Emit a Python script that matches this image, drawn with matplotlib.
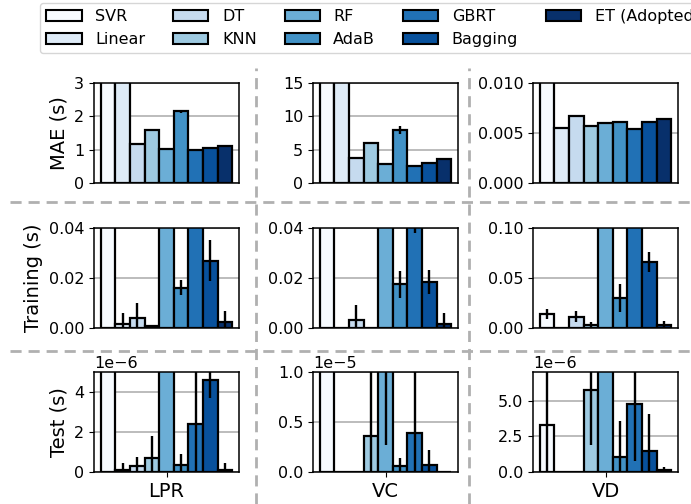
import numpy as np
import matplotlib
matplotlib.use("Agg")
import matplotlib.pyplot as plt
from matplotlib.lines import Line2D
from matplotlib.patches import Patch

models = ["SVR", "Linear", "DT", "KNN", "RF", "AdaB", "GBRT", "Bagging", "ET (Adopted)"]
colors = ["#f7fbff", "#deebf7", "#c6dbef", "#9ecae1", "#6baed6",
          "#4292c6", "#2171b5", "#08519c", "#08306b"]
datasets = ["LPR", "VC", "VD"]
row_labels = ["MAE (s)", "Training (s)", "Test (s)"]

# MAE (s)
mae_lpr = [5.0, 3.6, 1.17, 1.58, 1.03, 2.15, 0.99, 1.05, 1.12]
mae_lpr_err = [0, 0, 0, 0, 0, 0.05, 0, 0, 0]
mae_vc = [30.0, 20.0, 3.7, 5.95, 2.9, 8.0, 2.5, 3.05, 3.6]
mae_vc_err = [0, 0, 0, 0, 0, 0.6, 0, 0, 0]
mae_vd = [0.02, 0.00547, 0.00673, 0.00567, 0.00597, 0.0061, 0.00543, 0.00607, 0.0064]
mae_vd_err = [0, 0, 0, 0, 0, 0.0001, 0, 0.0001, 0.0001]

# Training time (s)
train_lpr = [0.10, 0.0016, 0.0042, 0.0008, 0.12, 0.0162, 0.15, 0.0269, 0.0023]
train_lpr_err = [0.01, 0.0044, 0.0058, 0.0004, 0.01, 0.003, 0.01, 0.0082, 0.0044]
train_vc = [0.30, 0.0, 0.0032, 0.0, 0.20, 0.0175, 0.06, 0.0185, 0.0018]
train_vc_err = [0.02, 0.0, 0.0062, 0.0, 0.02, 0.0055, 0.022, 0.0048, 0.0044]
train_vd = [0.0141, 0.0, 0.0114, 0.0027, 0.30, 0.030, 0.40, 0.0663, 0.0027]
train_vd_err = [0.0053, 0.0, 0.0054, 0.0037, 0.05, 0.0138, 0.05, 0.010, 0.004]

# Test time (s)
test_lpr = [20e-6, 0.12e-6, 0.28e-6, 0.70e-6, 8e-6, 0.37e-6, 2.42e-6, 4.6e-6, 0.12e-6]
test_lpr_err = [3e-6, 0.33e-6, 0.45e-6, 1.08e-6, 2e-6, 0.53e-6, 2.8e-6, 0.9e-6, 0.33e-6]
test_vc = [5e-5, 0.0, 0.0, 0.363e-5, 1.5e-5, 0.057e-5, 0.39e-5, 0.073e-5, 0.003e-5]
test_vc_err = [0.5e-5, 0.0, 0.0, 0.9e-5, 1.227e-5, 0.083e-5, 0.75e-5, 0.15e-5, 0.005e-5]
test_vd = [3.32e-6, 0.0, 0.0, 5.77e-6, 12e-6, 1.05e-6, 4.77e-6, 1.45e-6, 0.12e-6]
test_vd_err = [3.8e-6, 0.0, 0.0, 3.85e-6, 2e-6, 2.5e-6, 4.02e-6, 2.64e-6, 0.23e-6]

values = [[mae_lpr, mae_vc, mae_vd],
          [train_lpr, train_vc, train_vd],
          [test_lpr, test_vc, test_vd]]
errors = [[mae_lpr_err, mae_vc_err, mae_vd_err],
          [train_lpr_err, train_vc_err, train_vd_err],
          [test_lpr_err, test_vc_err, test_vd_err]]
ylims = [[3, 15, 0.010], [0.04, 0.04, 0.10], [5e-6, 1e-5, 7e-6]]
yticks = [[[0, 1, 2, 3], [0, 5, 10, 15], [0, 0.005, 0.010]],
          [[0, 0.02, 0.04], [0, 0.02, 0.04], [0, 0.05, 0.10]],
          [[0, 2e-6, 4e-6], [0, 0.5e-5, 1e-5], [0, 2.5e-6, 5e-6]]]

W, H = 691, 504
fig = plt.figure(figsize=(W / 100, H / 100), dpi=100)

col_left = [94, 313, 533]
ax_w = 145
row_top = [83, 228, 372]
ax_h = 100

bw = 0.1
xpos = (np.arange(len(models)) - (len(models) - 1) / 2) * bw

for r in range(3):
    for c in range(3):
        ax = fig.add_axes([col_left[c] / W, 1 - (row_top[r] + ax_h) / H, ax_w / W, ax_h / H])
        ax.set_axisbelow(True)
        ax.yaxis.grid(True, color="#b0b0b0", lw=1.2)
        ax.bar(xpos, values[r][c], bw, yerr=errors[r][c], color=colors,
               edgecolor="black", linewidth=1.6,
               error_kw=dict(ecolor="black", elinewidth=1.7, capsize=0))
        ax.set_ylim(0, ylims[r][c])
        ax.set_yticks(yticks[r][c])
        ax.tick_params(axis="y", labelsize=11.5)
        for s in ax.spines.values():
            s.set_linewidth(1.1)
        if r == 2:
            ax.set_xticks([0])
            ax.set_xticklabels([datasets[c]], fontsize=14)
            ax.ticklabel_format(axis="y", style="sci", scilimits=(0, 0))
            ax.yaxis.get_offset_text().set_fontsize(11.5)
        else:
            ax.set_xticks([])
        if c == 0:
            ax.set_ylabel(row_labels[r], fontsize=14)

# dashed separators
dash = dict(color="#b0b0b0", lw=2, ls=(0, (4, 2.5)), transform=fig.transFigure)
for yp in [202, 351]:
    fig.add_artist(Line2D([10 / W, 1], [1 - yp / H, 1 - yp / H], **dash))
for xp in [256, 469]:
    fig.add_artist(Line2D([xp / W, xp / W], [0, 1 - 68 / H], **dash))

handles = [Patch(facecolor=col, edgecolor="black", linewidth=1.5) for col in colors]
fig.legend(handles, models, ncol=5, loc="upper left",
           bbox_to_anchor=(40 / W, 1 - 2.5 / H), borderaxespad=0,
           fontsize=11.5, handlelength=2.2, handletextpad=0.85,
           columnspacing=1.75, labelspacing=0.5, frameon=True)

fig.savefig("out.png", dpi=100)
